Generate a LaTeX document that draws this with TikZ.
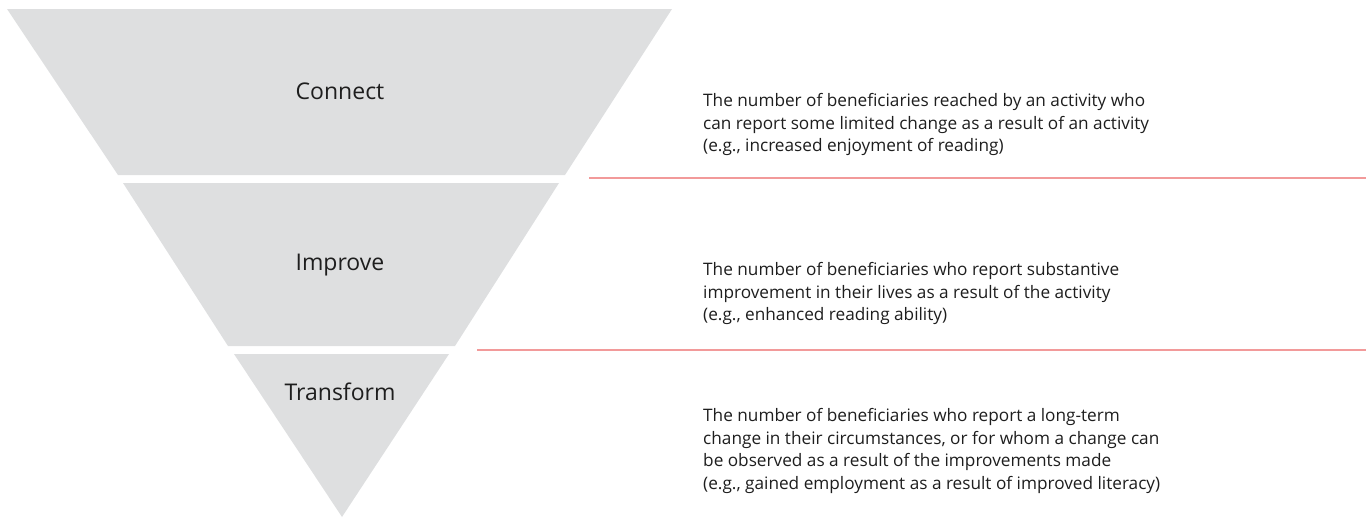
\documentclass[tikz,border=0pt]{standalone}
\usepackage{fontspec}
\setmainfont{Open Sans}
\definecolor{funnel}{HTML}{DEDFE0}
\definecolor{divider}{HTML}{F29A9A}
\definecolor{ink}{HTML}{1E1E1E}
\begin{document}
\begin{tikzpicture}[x=1pt,y=-1pt,
  level/.style={fill=funnel,draw=none},
  lbl/.style={text=ink,font=\fontsize{23}{28}\selectfont,inner sep=0pt},
  desc/.style={text=ink,font=\fontsize{17.2}{22.6}\selectfont,align=left,anchor=west,inner sep=0pt},
  rule/.style={draw=divider,line width=1.3pt}]
\useasboundingbox (0,0) rectangle (1371,517);
% funnel levels
\path[level] (7,9) -- (672,9) -- (565,175) -- (118,175) -- cycle;
\path[level] (123,183) -- (559,183) -- (455,346) -- (228,346) -- cycle;
\path[level] (234,354) -- (449,354) -- (342,517) -- cycle;
% labels
\node[lbl] (connect) at (340,91) {Connect};
\node[lbl] (improve) at (340,265) {Improve};
\node[lbl] (transform) at (340,392) {Transform};
% dividers
\coordinate (d1a) at (589,178);
\coordinate (d1b) at (1366,178);
\coordinate (d2a) at (477,350);
\coordinate (d2b) at (1366,350);
\draw[rule] (d1a) -- (d1b);
\draw[rule] (d2a) -- (d2b);
% descriptions
\node[desc] (descA) at (703,124.5) {The number of beneficiaries reached by an activity who\\can report some limited change as a result of an activity\\(e.g., increased enjoyment of reading)};
\node[desc] (descB) at (703,293.5) {The number of beneficiaries who report substantive\\improvement in their lives as a result of the activity\\(e.g., enhanced reading ability)};
\node[desc] (descC) at (703,451) {The number of beneficiaries who report a long-term\\change in their circumstances, or for whom a change can\\be observed as a result of the improvements made\\(e.g., gained employment as a result of improved literacy)};
\end{tikzpicture}
\end{document}
